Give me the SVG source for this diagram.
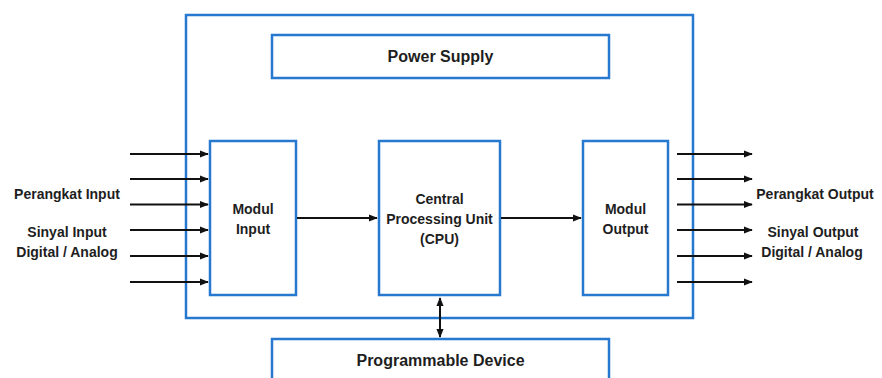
<svg xmlns="http://www.w3.org/2000/svg" width="882" height="378" viewBox="0 0 882 378">
<defs>
<marker id="ah" viewBox="0 0 10 10" refX="9" refY="5" markerWidth="4.5" markerHeight="4.5" orient="auto-start-reverse" markerUnits="strokeWidth">
<path d="M0,1 L10,5 L0,9 z" fill="#111"/>
</marker>
</defs>
<style>
.box{fill:#fff;stroke:#2679cf;stroke-width:2.5}
.lbl{font-family:"Liberation Sans",Arial,sans-serif;font-weight:bold;font-size:14px;fill:#1e1e1e;text-anchor:middle}
.big{font-size:16px}
.ar{stroke:#111;stroke-width:2;fill:none;marker-end:url(#ah)}
</style>
<rect width="882" height="378" fill="#fff"/>
<g id="outer"><rect class="box" x="186" y="15" width="507" height="303"/></g>
<g id="power-supply"><rect class="box" x="272" y="35" width="337" height="43"/><text class="lbl big" x="440.5" y="62">Power Supply</text></g>
<g id="programmable-device"><rect class="box" x="272" y="339" width="337" height="50"/><text class="lbl big" x="440.5" y="366">Programmable Device</text></g>
<g id="modul-input"><rect class="box" x="210" y="141" width="86" height="154"/><text class="lbl" x="253" y="214">Modul</text><text class="lbl" x="253" y="234">Input</text></g>
<g id="cpu"><rect class="box" x="379" y="141" width="121" height="154"/><text class="lbl" x="439.5" y="204">Central</text><text class="lbl" x="439.5" y="224">Processing Unit</text><text class="lbl" x="439.5" y="244">(CPU)</text></g>
<g id="modul-output"><rect class="box" x="583" y="141" width="85" height="154"/><text class="lbl" x="625.5" y="214">Modul</text><text class="lbl" x="625.5" y="234">Output</text></g>
<g id="input-label"><text class="lbl" x="67" y="199">Perangkat Input</text><text class="lbl" x="67" y="237">Sinyal Input</text><text class="lbl" x="67" y="257">Digital / Analog</text></g>
<g id="output-label"><text class="lbl" x="815" y="199">Perangkat Output</text><text class="lbl" x="813" y="237">Sinyal Output</text><text class="lbl" x="812" y="257">Digital / Analog</text></g>
<g id="connectors">
<line class="ar" x1="130" y1="154" x2="208" y2="154"/>
<line class="ar" x1="130" y1="179" x2="208" y2="179"/>
<line class="ar" x1="130" y1="204.5" x2="208" y2="204.5"/>
<line class="ar" x1="130" y1="230" x2="208" y2="230"/>
<line class="ar" x1="130" y1="256" x2="208" y2="256"/>
<line class="ar" x1="130" y1="282" x2="208" y2="282"/>
<line class="ar" x1="677" y1="154" x2="752" y2="154"/>
<line class="ar" x1="677" y1="179" x2="752" y2="179"/>
<line class="ar" x1="677" y1="204.5" x2="752" y2="204.5"/>
<line class="ar" x1="677" y1="230" x2="752" y2="230"/>
<line class="ar" x1="677" y1="256" x2="752" y2="256"/>
<line class="ar" x1="677" y1="282" x2="752" y2="282"/>
<line class="ar" x1="297" y1="218" x2="377" y2="218"/>
<line class="ar" x1="501" y1="218" x2="581" y2="218"/>
<line class="ar" x1="440" y1="298" x2="440" y2="337" style="marker-start:url(#ah)"/>
</g>
</svg>
